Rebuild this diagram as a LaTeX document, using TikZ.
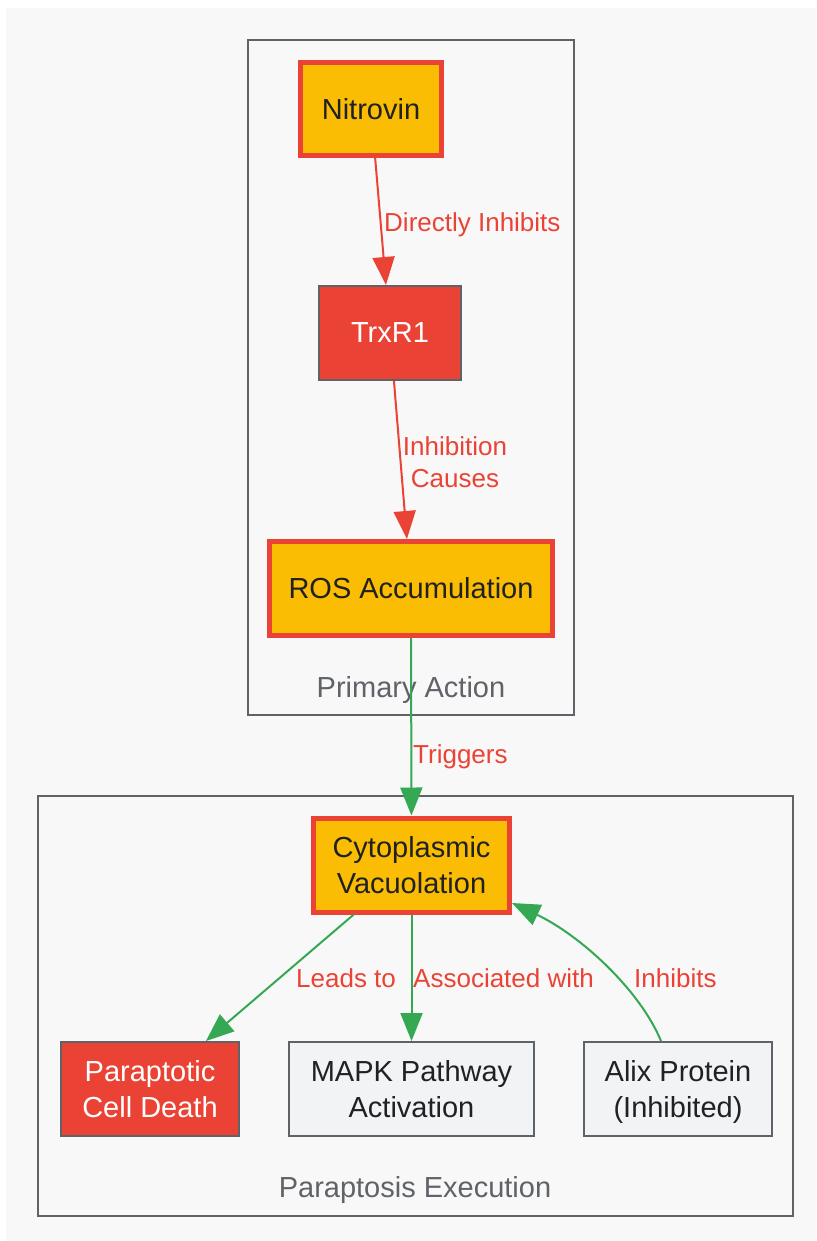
\documentclass[tikz,border=0pt]{standalone}
\usepackage{fontspec}
\setmainfont{Liberation Sans}
\usetikzlibrary{arrows.meta,calc}
\definecolor{mred}{HTML}{EA4335}
\definecolor{mgreen}{HTML}{34A853}
\definecolor{myel}{HTML}{FBBC04}
\definecolor{mgray}{HTML}{5F6368}
\definecolor{mtext}{HTML}{202124}
\definecolor{mlight}{HTML}{F1F3F4}
\definecolor{mbg}{HTML}{F8F8F8}
\begin{document}
\begin{tikzpicture}[x=1pt,y=-1pt,
 box/.style={rectangle, inner sep=0pt, align=center, font=\fontsize{29}{36}\selectfont},
 hot/.style={box, fill=myel, draw=mred, line width=5pt, text=mtext},
 redbox/.style={box, fill=mred, draw=mgray, line width=2pt, text=white},
 plain/.style={box, fill=mlight, draw=mgray, line width=2pt, text=mtext},
 cluster/.style={draw=mgray, line width=2pt, fill=mbg},
 clabel/.style={font=\fontsize{29}{35}\selectfont, text=mgray, inner sep=0pt},
 elabel/.style={font=\fontsize{26}{32}\selectfont, text=mred, align=center, inner sep=0pt},
 re/.style={draw=mred, line width=2pt, -{Triangle[length=28pt,width=22pt]}},
 ge/.style={draw=mgreen, line width=2pt, -{Triangle[length=28pt,width=22pt]}}
]
\useasboundingbox (0,0) rectangle (816,1241);
\fill[white] (0,0) rectangle (816,1241);
\fill[mbg] (6,8) rectangle (816,1241);

% clusters
\draw[cluster] (248,40) rectangle (574,715);
\draw[cluster] (38,796) rectangle (793,1216);
\node[clabel] (lprimary) at (411,690) {Primary Action};
\node[clabel] (lexec) at (415,1190) {Paraptosis Execution};

% nodes
\node[hot, minimum width=141pt, minimum height=93pt] (nitro) at (371,109) {Nitrovin};
\node[redbox, minimum width=142pt, minimum height=94pt] (trx) at (390,333) {TrxR1};
\node[hot, minimum width=283pt, minimum height=94pt] (ros) at (411,588.5) {ROS Accumulation};
\node[hot, minimum width=196pt, minimum height=94pt] (cyto) at (411.5,865) {Cytoplasmic\\Vacuolation};
\node[redbox, minimum width=178pt, minimum height=94pt] (death) at (150,1089) {Paraptotic\\Cell Death};
\node[plain, minimum width=245pt, minimum height=94pt] (mapk) at (411.5,1089) {MAPK Pathway\\Activation};
\node[plain, minimum width=188pt, minimum height=94pt] (alix) at (678,1089) {};
\node[box, text=mtext] (alixtext) at (678,1092) {Alix Protein\\(Inhibited)};

% edges
\draw[re] (nitro) -- (trx);
\draw[re] (trx) -- (ros);
\draw[ge] (ros) -- (cyto);
\draw[ge] (cyto) -- (death);
\draw[ge] (cyto) -- (mapk);
\draw[ge] ([xshift=-17pt]alix.north) .. controls (640,990) and (580,935) .. ([yshift=-38pt]cyto.east);

% edge labels
\node[elabel, anchor=west] (l1) at (384,225) {Directly Inhibits};
\node[elabel] (l2) at (455,462) {Inhibition\\Causes};
\node[elabel, anchor=west] (l3) at (413,757) {Triggers};
\node[elabel, anchor=west] (l4) at (296,978) {Leads to};
\node[elabel, anchor=west] (l5) at (413,978) {Associated with};
\node[elabel, anchor=west] (l6) at (634,978) {Inhibits};
\end{tikzpicture}
\end{document}
